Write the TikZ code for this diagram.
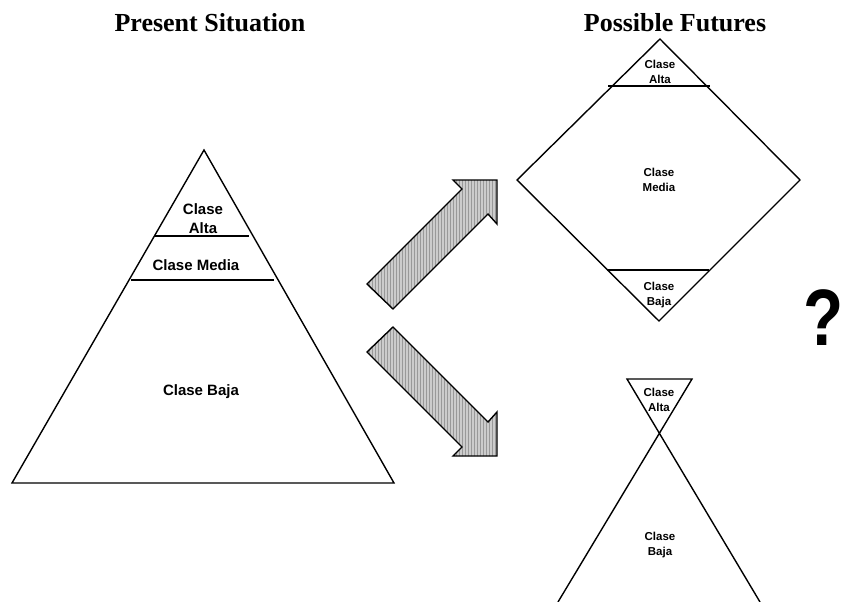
\documentclass[tikz,border=0pt]{standalone}
\usepackage{fontspec}
\setmainfont{Liberation Serif}
\newfontfamily\arial{Liberation Sans}
\usetikzlibrary{patterns}
\tikzset{
  shapeline/.style={line width=1.4pt, line join=miter},
  divline/.style={line width=1.4pt},
  bigtxt/.style={align=center, inner sep=0pt, font=\arial\bfseries\fontsize{15}{19}\selectfont},
  smalltxt/.style={align=center, inner sep=0pt, font=\arial\bfseries\fontsize{11.5}{14.5}\selectfont},
  titletxt/.style={anchor=base, inner sep=0pt, font=\bfseries\fontsize{26}{30}\selectfont},
  arrowfill/.style={fill=gray!40},
  arrowpat/.style={pattern=vertical lines, pattern color=gray!80},
  arrowline/.style={draw=black, line width=1.4pt, line join=miter}
}
\begin{document}
\begin{tikzpicture}[x=1pt,y=-1pt]
\useasboundingbox (0,0) rectangle (849,602);
% titles
\node[titletxt] (t1) at (210,32) {Present Situation};
\node[titletxt] (t2) at (675,32) {Possible Futures};
% present pyramid
\coordinate (pA) at (204,150);
\coordinate (pL) at (12,483);
\coordinate (pR) at (394,483);
\draw[shapeline] (pA) -- (pL) -- (pR) -- cycle;
\coordinate (l1a) at (155,236); \coordinate (l1b) at (249,236);
\coordinate (l2a) at (131,280); \coordinate (l2b) at (274,280);
\draw[divline] (l1a) -- (l1b);
\draw[divline] (l2a) -- (l2b);
\node[bigtxt] (pa) at (203,219) {Clase\\Alta};
\node[bigtxt] (pm) at (196,265) {Clase Media};
\node[bigtxt] (pb) at (201,392) {Clase Baja};
% diamond
\coordinate (dT) at (660,39);
\coordinate (dL) at (517,180);
\coordinate (dB) at (659,321);
\coordinate (dR) at (800,180);
\draw[shapeline] (dT) -- (dL) -- (dB) -- (dR) -- cycle;
\coordinate (d1a) at (608,86); \coordinate (d1b) at (710,86);
\coordinate (d2a) at (607,270); \coordinate (d2b) at (709,270);
\draw[divline] (d1a) -- (d1b);
\draw[divline] (d2a) -- (d2b);
\node[smalltxt] (da) at (660,72) {Clase\\Alta};
\node[smalltxt] (dm) at (659,180) {Clase\\Media};
\node[smalltxt] (db) at (659,295) {Clase\\Baja};
% hourglass
\coordinate (h1) at (627,379);
\coordinate (h2) at (692,379);
\coordinate (h3) at (558,602);
\coordinate (h4) at (760,602);
\draw[shapeline] (h3) -- (h2) -- (h1) -- (h4);
\node[smalltxt] (ha) at (659,400) {Clase\\Alta};
\node[smalltxt] (hb) at (660,545) {Clase\\Baja};
% arrows
\coordinate (u1) at (367,284); \coordinate (u2) at (462,189); \coordinate (u3) at (453,180);
\coordinate (u4) at (497,180); \coordinate (u5) at (497,224); \coordinate (u6) at (488,214);
\coordinate (u7) at (393,309);
\fill[arrowfill] (u1) -- (u2) -- (u3) -- (u4) -- (u5) -- (u6) -- (u7) -- cycle;
\fill[arrowpat] (u1) -- (u2) -- (u3) -- (u4) -- (u5) -- (u6) -- (u7) -- cycle;
\draw[arrowline] (u1) -- (u2) -- (u3) -- (u4) -- (u5) -- (u6) -- (u7) -- cycle;
\coordinate (w1) at (367,352); \coordinate (w2) at (462,447); \coordinate (w3) at (453,456);
\coordinate (w4) at (497,456); \coordinate (w5) at (497,412); \coordinate (w6) at (488,422);
\coordinate (w7) at (393,327);
\fill[arrowfill] (w1) -- (w2) -- (w3) -- (w4) -- (w5) -- (w6) -- (w7) -- cycle;
\fill[arrowpat] (w1) -- (w2) -- (w3) -- (w4) -- (w5) -- (w6) -- (w7) -- cycle;
\draw[arrowline] (w1) -- (w2) -- (w3) -- (w4) -- (w5) -- (w6) -- (w7) -- cycle;
% question mark
\node[anchor=base, inner sep=0pt, xscale=0.82, font=\arial\bfseries\fontsize{80}{80}\selectfont] (q) at (824,345) {?};
\end{tikzpicture}
\end{document}
